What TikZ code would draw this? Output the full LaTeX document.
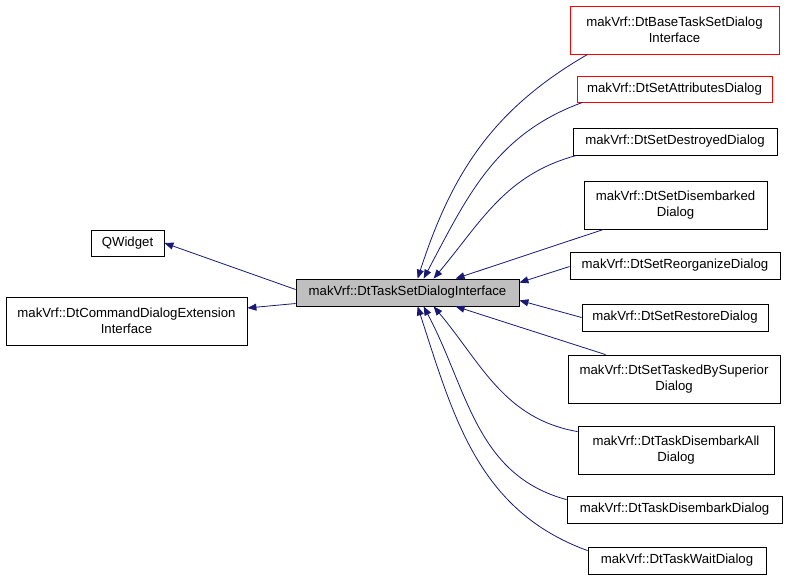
\documentclass[tikz,border=0pt]{standalone}
\usepackage{fontspec}
\setmainfont{Liberation Sans}
\usetikzlibrary{arrows.meta,calc}
\begin{document}
\begin{tikzpicture}[x=1pt,y=-1pt,
  box/.style={draw=black,fill=white,align=center,inner sep=0pt,font=\fontsize{13.2}{15.5}\selectfont,line width=0.8pt},
  redbox/.style={box,draw=red},
  edge/.style={draw=blue!40!black!90,line width=0.8pt,{Triangle[length=9pt,width=7pt]}-}]
\useasboundingbox (0,0) rectangle (789,584);
\newcommand{\bx}[6]{\node[#1,minimum width=#4-#3,minimum height=#6-#5] (#2) at ({(#3+#4)/2},{(#5+#6)/2})}
\bx{box,fill=gray!50}{c}{296}{519}{279}{306}{makVrf::DtTaskSetDialogInterface};
\bx{box}{qw}{91}{164}{230}{256}{QWidget};
\bx{box}{cd}{6}{247}{297}{345}{makVrf::DtCommandDialogExtension\\Interface};
\bx{redbox}{n1}{570}{779}{6}{54}{makVrf::DtBaseTaskSetDialog\\Interface};
\bx{redbox}{n2}{577}{772}{76}{102}{makVrf::DtSetAttributesDialog};
\bx{box}{n3}{573}{777}{128}{155}{makVrf::DtSetDestroyedDialog};
\bx{box}{n4}{584}{767}{181}{229}{makVrf::DtSetDisembarked\\Dialog};
\bx{box}{n5}{570}{780}{252}{279}{makVrf::DtSetReorganizeDialog};
\bx{box}{n6}{582}{768}{304}{331}{makVrf::DtSetRestoreDialog};
\bx{box}{n7}{568}{780}{355}{403}{makVrf::DtSetTaskedBySuperior\\Dialog};
\bx{box}{n8}{578}{774}{426}{474}{makVrf::DtTaskDisembarkAll\\Dialog};
\bx{box}{n9}{567}{782}{496}{523}{makVrf::DtTaskDisembarkDialog};
\bx{box}{n10}{588}{766}{547}{574}{makVrf::DtTaskWaitDialog};
\draw[edge] ($(c.north west)+(122,0)$) to[out=72,in=-150] ($(n1.south west)+(18,0)$);
\draw[edge] ($(c.north west)+(128,0)$) to[out=62,in=-160] ($(n2.south west)+(6,0)$);
\draw[edge] ($(c.north west)+(138,0)$) to[out=50,in=-165] ($(n3.south west)+(4,0)$);
\draw[edge] ($(c.north west)+(160,0)$) -- ($(n4.south west)+(20,0)$);
\draw[edge] ($(c.north east)+(0,4)$) -- ($(n5.west)+(0,1)$);
\draw[edge] ($(c.south east)+(0,-6)$) -- (n6.west);
\draw[edge] ($(c.south west)+(160,0)$) -- ($(n7.north west)+(38,0)$);
\draw[edge] ($(c.south west)+(138,0)$) to[out=-50,in=170] ($(n8.north west)+(0,6)$);
\draw[edge] ($(c.south west)+(128,0)$) to[out=-62,in=165] ($(n9.north west)+(0,4)$);
\draw[edge] ($(c.south west)+(122,0)$) to[out=-72,in=160] ($(n10.north west)+(0,4)$);
\draw[edge] (qw.east) -- ($(c.west)+(0,-3)$);
\draw[edge] ($(cd.east)+(0,-13)$) -- ($(c.west)+(0,11)$);
\end{tikzpicture}
\end{document}
